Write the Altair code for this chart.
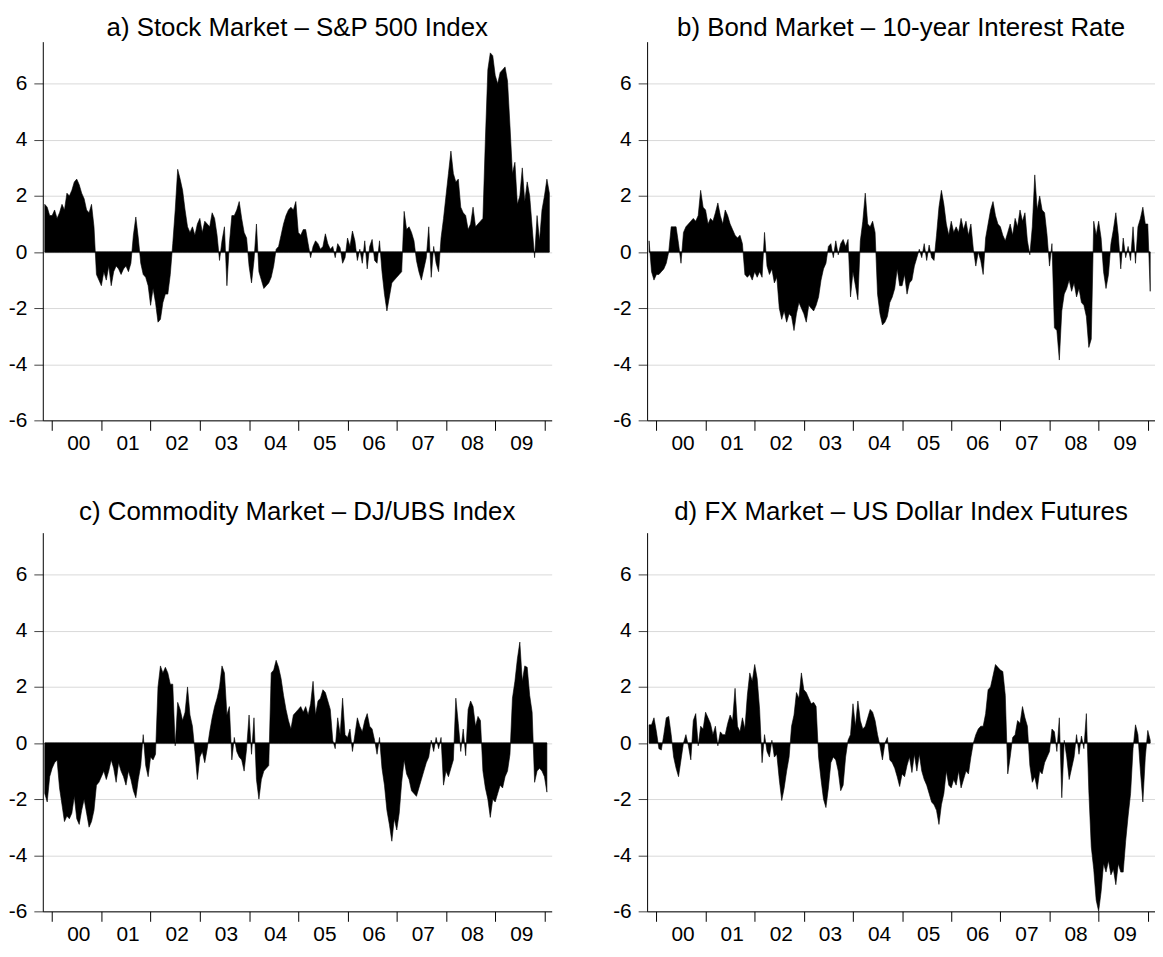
import altair as alt
import pandas as pd

# ---- data (semi-monthly grid, 20 points per year, starting 1999.85) ----
START = 1999.85
STEP = 0.05

stock = [
    1.7, 1.6, 1.3,
    # 2000
    1.3, 1.5, 1.2, 1.4, 1.7, 1.5, 2.1, 2.0, 2.2, 2.5, 2.6, 2.4, 2.1, 1.9, 1.5, 1.4, 1.7, 0.9, -0.8, -1.0,
    # 2001
    -1.2, -0.7, -1.0, -0.5, -1.2, -0.7, -0.5, -0.6, -0.8, -0.6, -0.5, -0.7, -0.4, 0.6, 1.25, 0.5, -0.4, -0.8, -0.9, -1.2,
    # 2002
    -1.9, -1.3, -1.8, -2.5, -2.4, -1.8, -1.5, -1.5, -0.8, 0.3, 1.5, 2.95, 2.6, 2.2, 1.5, 0.9, 0.7, 0.9, 0.6, 1.0,
    # 2003
    1.2, 0.7, 1.1, 1.0, 0.9, 1.4, 1.2, 0.6, -0.3, 0.4, 0.9, -1.2, 0.3, 1.3, 1.3, 1.5, 1.8, 1.2, 0.7, 0.5,
    # 2004
    -0.5, -1.1, -0.3, 1.0, -0.7, -1.0, -1.3, -1.2, -1.1, -0.9, -0.5, 0.1, 0.2, 0.6, 1.0, 1.3, 1.5, 1.6, 1.5, 1.8,
    # 2005
    0.7, 0.6, 0.8, 0.8, 0.3, -0.2, 0.2, 0.4, 0.3, 0.1, 0.2, 0.65, 0.3, 0.1, 0.2, -0.2, 0.3, 0.15, -0.4, -0.2,
    # 2006
    0.5, 0.2, 0.75, 0.4, -0.3, 0.1, -0.4, 0.4, -0.6, 0.2, 0.45, -0.3, -0.4, 0.4, -0.7, -1.5, -2.1, -1.6, -1.1, -1.0,
    # 2007
    -0.9, -0.8, -0.7, 1.45, 0.8, 0.9, 0.7, 0.4, -0.3, -0.7, -1.0, -0.6, -0.2, 0.9, -0.9, 0.2, -0.4, -0.7, 0.5, 1.2,
    # 2008
    2.0, 2.8, 3.6, 2.8, 2.5, 2.6, 1.6, 1.4, 1.3, 0.8, 1.0, 1.6, 0.9, 1.0, 1.1, 1.2, 4.0, 6.5, 7.1, 7.0,
    # 2009
    6.3, 6.0, 6.4, 6.5, 6.6, 6.1, 4.5, 2.8, 3.2, 1.7, 2.0, 3.0, 1.8, 2.5, 2.0, 0.9, -0.2, 1.3, 0.4, 1.5,
    # 2010
    2.0, 2.6, 2.1,
]

bond = [
    0.4, -0.7, -1.0,
    # 2000
    -0.8, -0.8, -0.7, -0.6, -0.4, 0.0, 0.9, 0.9, 0.9, 0.3, -0.4, 0.7, 0.9, 1.0, 1.1, 1.2, 1.1, 1.3, 2.2, 1.6,
    # 2001
    1.5, 1.0, 1.2, 1.1, 1.4, 1.75, 1.3, 1.0, 1.5, 1.3, 1.0, 0.8, 0.6, 0.5, 0.6, 0.3, -0.8, -0.9, -0.8, -1.0,
    # 2002
    -0.7, -0.9, -0.7, -0.9, 0.7, -0.5, -0.8, -0.6, -1.1, -0.9, -2.0, -2.4, -2.1, -2.5, -2.2, -2.3, -2.8, -2.2, -1.8, -2.0,
    # 2003
    -2.2, -2.5, -1.9, -2.0, -2.1, -1.9, -1.6, -1.0, -0.6, -0.4, 0.2, 0.3, -0.2, 0.4, -0.1, 0.3, 0.45, 0.2, 0.45, -1.6,
    # 2004
    -0.7, -1.2, -1.7, 0.4, 1.1, 2.1, 1.0, 0.9, 1.1, 0.7, -1.5, -2.2, -2.6, -2.5, -2.3, -1.8, -1.6, -1.3, -0.6, -1.2,
    # 2005
    -1.2, -0.8, -1.5, -1.1, -1.0, -0.5, -0.2, 0.1, -0.2, 0.3, -0.3, 0.25, -0.2, -0.3, 0.6, 1.6, 2.2, 1.7, 1.0, 0.6,
    # 2006
    1.1, 0.7, 0.9, 0.7, 1.2, 0.8, 1.1, 0.6, 1.0, 0.1, -0.5, 0.0, -0.3, -0.8, 0.5, 1.0, 1.5, 1.8, 1.3, 1.0,
    # 2007
    0.9, 0.6, 0.4, 0.7, 1.0, 0.6, 1.2, 0.9, 1.5, 1.1, 1.4, 0.4, -0.1, 0.9, 2.75, 1.5, 2.0, 1.5, 1.4, 0.6,
    # 2008
    -0.5, 0.3, -2.7, -2.8, -3.85, -2.1, -1.5, -1.3, -1.0, -1.4, -1.1, -1.6, -1.3, -1.8, -1.9, -2.3, -3.4, -3.1, 1.1, 0.6,
    # 2009
    1.1, 0.5, -0.7, -1.3, -0.8, 0.3, 0.8, 1.4, 0.6, -0.6, 0.5, -0.2, 0.2, -0.3, 0.9, -0.4, 0.9, 1.2, 1.6, 1.0,
    # 2010
    1.0, -1.4,
]

commodity = [
    -1.8, -2.1, -1.2,
    # 2000
    -0.9, -0.7, -0.6, -1.6, -2.2, -2.8, -2.6, -2.7, -2.5, -1.9, -2.7, -2.9, -2.4, -2.0, -2.5, -3.0, -2.8, -2.4, -1.5, -1.4,
    # 2001
    -1.2, -1.0, -1.3, -1.0, -0.6, -0.9, -1.4, -0.7, -1.0, -1.2, -1.5, -1.0, -1.3, -1.7, -1.95, -1.3, -0.8, 0.3, -0.8, -1.2,
    # 2002
    -0.5, -0.6, -0.4, 2.0, 2.75, 2.5, 2.7, 2.5, 2.1, 2.1, -0.1, 1.45, 1.2, 0.8, 1.1, 2.0, 1.0, 0.6, -0.3, -1.3,
    # 2003
    -0.5, -0.3, -0.7, -0.2, 0.4, 0.9, 1.3, 1.6, 2.0, 2.75, 2.5, 1.0, 1.3, -0.6, 0.2, -0.3, -0.5, -0.6, -1.0, -0.2,
    # 2004
    1.0, -0.4, 0.9, -1.3, -2.0, -1.3, -1.0, -0.9, -0.8, 2.5, 2.6, 2.95, 2.7, 2.3, 1.7, 1.2, 0.8, 0.5, 1.0, 1.1,
    # 2005
    1.2, 1.3, 1.1, 1.3, 1.0, 1.4, 2.2, 1.0, 1.5, 1.6, 1.9, 1.8, 1.5, 1.2, 0.1, -0.2, 0.9, 0.3, 1.6, 0.3,
    # 2006
    0.2, 0.5, -0.3, 0.3, 0.9, 0.6, 0.4, 0.8, 1.05, 0.6, 0.5, 0.1, -0.4, 0.2, -0.9, -1.5, -2.4, -2.9, -3.5, -2.7,
    # 2007
    -3.1, -2.5, -1.4, -0.6, -1.1, -1.3, -1.7, -1.8, -1.9, -1.6, -1.3, -1.0, -0.7, -0.5, 0.1, -0.3, 0.2, -0.2, 0.2, -1.5,
    # 2008
    -1.0, -1.2, -0.9, -0.6, 1.6, 0.7, -0.3, 0.5, -0.45, 1.2, 1.5, 1.3, 0.6, 0.95, 0.8, -1.0, -1.6, -2.0, -2.65, -2.0,
    # 2009
    -2.1, -1.8, -1.5, -1.6, -1.2, -1.0, -0.4, 1.6, 2.2, 3.0, 3.6, 2.2, 2.75, 2.7, 1.7, 1.1, -1.4, -1.0, -0.9, -1.0,
    # 2010
    -1.2, -1.75,
]

fx = [
    0.65, 0.65, 0.9,
    # 2000
    0.4, -0.2, -0.25, 0.3, 0.9, 0.95, 0.3, -0.5, -0.9, -1.2, -0.6, 0.0, 0.3, -0.1, -0.6, 0.8, 1.05, -0.1, 0.6, 0.5,
    # 2001
    1.1, 0.9, 0.7, 0.3, 0.6, -0.1, 0.4, 0.3, 0.3, 0.7, 1.0, 0.8, 1.95, 0.6, 0.4, 0.9, 0.5, 1.7, 2.5, 2.2,
    # 2002
    2.8, 2.3, 1.2, -0.7, 0.3, -0.3, -0.5, 0.1, -0.5, -0.4, -1.3, -2.05, -1.6, -1.0, -0.5, 0.6, 1.0, 1.8, 1.6, 2.5,
    # 2003
    1.9, 1.8, 1.6, 1.4, 1.45, 1.3, -0.5, -1.3, -2.0, -2.3, -1.6, -0.7, -0.5, -0.6, -1.0, -1.7, -1.5, -0.5, 0.1, 0.3,
    # 2004
    1.4, 0.6, 1.5, 0.8, 0.5, 0.6, 0.9, 1.2, 1.1, 0.8, 0.3, -0.1, -0.6, 0.0, 0.2, -0.6, -0.7, -0.9, -1.2, -1.55,
    # 2005
    -1.1, -1.2, -0.8, -0.5, -1.05, -0.4, -1.0, -0.4, -1.0, -1.3, -1.5, -1.8, -2.1, -2.2, -2.4, -2.9, -2.2, -1.8, -1.0, -1.5,
    # 2006
    -1.6, -1.3, -1.5, -1.0, -1.6, -1.3, -1.0, -1.1, -0.5, 0.0, 0.3, 0.5, 0.6, 0.6, 1.05, 1.9, 2.0, 2.4, 2.8, 2.7,
    # 2007
    2.6, 2.55, 1.7, -1.1, -0.5, 0.2, 0.3, 0.8, 0.7, 1.3, 0.9, 0.6, -0.8, -1.4, -1.2, -1.65, -1.0, -1.1, -0.7, -0.5,
    # 2008
    -0.3, 0.5, 0.4, -0.3, 0.9, -1.95, 0.1, -0.5, -1.3, -0.9, -0.5, 0.3, -0.4, 0.25, -0.2, 1.05, -1.7, -3.7, -4.5, -5.6,
    # 2009
    -6.0, -5.3, -4.3, -4.6, -4.2, -4.7, -4.5, -5.05, -4.3, -4.6, -4.6, -3.5, -2.6, -1.8, -0.2, 0.65, 0.3, -1.0, -2.1, -0.5,
    # 2010
    0.45, 0.1,
]

titles = [
    "a) Stock Market \u2013 S&P 500 Index",
    "b) Bond Market \u2013 10-year Interest Rate",
    "c) Commodity Market \u2013 DJ/UBS Index",
    "d) FX Market \u2013 US Dollar Index Futures",
]
year_ticks = list(range(2000, 2011))
year_labels = ["00", "01", "02", "03", "04", "05", "06", "07", "08", "09"]
y_ticks = [-6, -4, -2, 0, 2, 4, 6]

FONT = "Liberation Sans"
H = 381


def make_df(vals):
    return pd.DataFrame({"x": [round(START + STEP * i, 4) for i in range(len(vals))], "v": vals})


def panel(vals, title, toffset, W):
    df = make_df(vals)
    xsc = alt.Scale(domain=[1999.81, 2010.147], nice=False, zero=False)
    ysc = alt.Scale(domain=[-6, 7.5], nice=False, zero=False)
    xaxis = alt.Axis(
        values=year_ticks,
        labels=False,
        tickSize=10,
        tickColor="black",
        domainColor="black",
        grid=False,
        title=None,
    )
    yaxis = alt.Axis(
        values=y_ticks,
        labelExpr="datum.value < 0 ? '-' + abs(datum.value) : '' + datum.value",
        labelFlush=False,
        labelOverlap=False,
        labelPadding=7,
        tickSize=9,
        tickColor="#444444",
        domainColor="black",
        grid=True,
        gridColor="#d9d9d9",
        title=None,
    )
    base = alt.Chart(df)
    area = base.mark_area(color="black", interpolate="linear", stroke="black", strokeWidth=0.6).encode(
        x=alt.X("x:Q", scale=xsc, axis=xaxis),
        y=alt.Y("v:Q", scale=ysc, axis=yaxis),
        y2=alt.datum(0),
    )
    zero = base.transform_aggregate(xmin="min(x)", xmax="max(x)").mark_rule(
        color="black", strokeWidth=1
    ).encode(
        x=alt.X("xmin:Q", scale=xsc),
        x2="xmax:Q",
        y=alt.datum(0),
    )
    lab_df = pd.DataFrame({"yr": [y + 0.5 for y in year_ticks[:-1]], "lab": year_labels})
    labels = alt.Chart(lab_df).mark_text(
        font=FONT, fontSize=21, color="black", align="center", baseline="alphabetic", dx=2
    ).encode(
        x=alt.X("yr:Q", scale=xsc),
        y=alt.value(H + 30),
        text="lab:N",
    )
    ttl = alt.Chart(pd.DataFrame({"t": [title]})).mark_text(
        font=FONT, fontSize=26, color="black", align="center", baseline="alphabetic"
    ).encode(
        x=alt.value(W / 2),
        y=alt.value(-toffset),
        text="t:N",
    )
    return alt.layer(area, zero, labels, ttl).properties(width=W, height=H)


pa = panel(stock, titles[0], 6, 512)
pb = panel(bond, titles[1], 6, 511)
pc = panel(commodity, titles[2], 13, 512)
pd_ = panel(fx, titles[3], 13, 511)

chart = alt.vconcat(
    alt.hconcat(pa, pb, spacing=61),
    alt.hconcat(pc, pd_, spacing=61),
    spacing=45,
).properties(
    padding={"left": 0, "top": 4, "right": 0, "bottom": 0},
    background="white",
).configure_view(
    stroke=None
).configure_axis(
    labelFont=FONT, labelFontSize=21, labelColor="black", domainWidth=1, tickWidth=1, gridWidth=1,
)

chart.save("out.html", embed_options={"renderer": "svg", "actions": False})
